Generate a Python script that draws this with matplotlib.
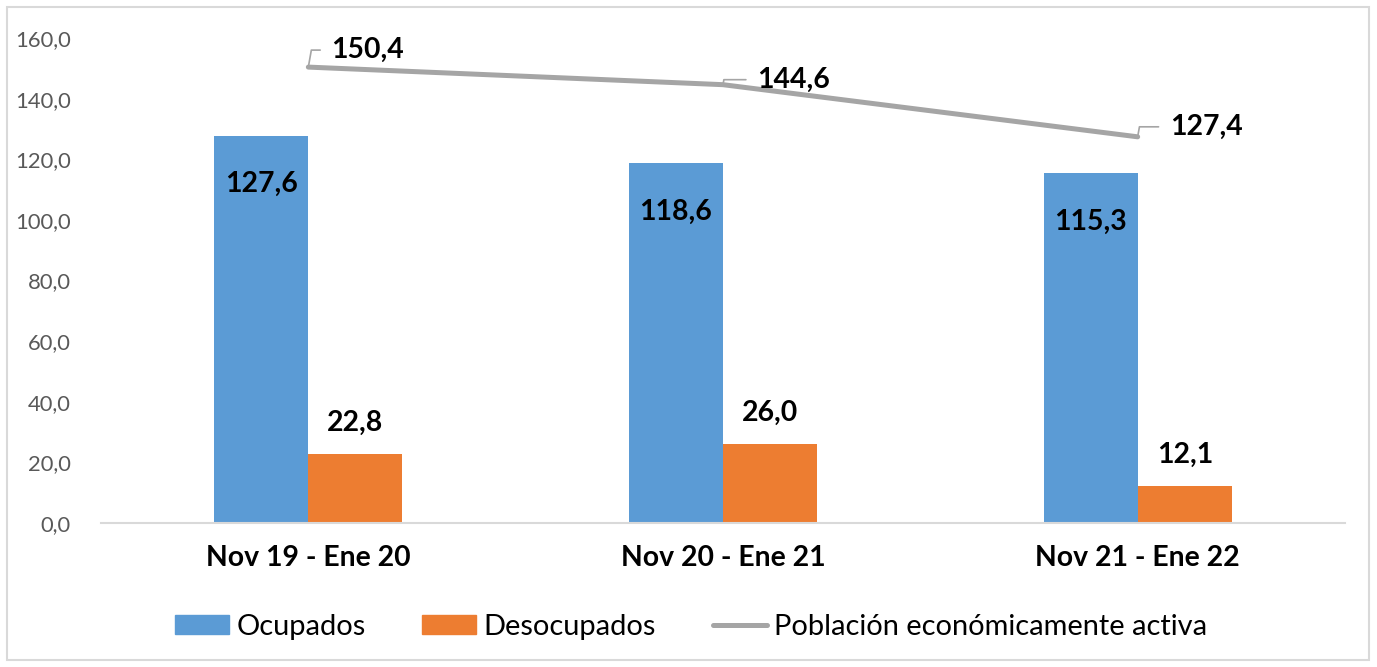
import matplotlib
matplotlib.use("Agg")
import matplotlib.pyplot as plt
from matplotlib.patches import Rectangle, Patch
from matplotlib.lines import Line2D
import numpy as np

categories = ["Nov 19 - Ene 20", "Nov 20 - Ene 21", "Nov 21 - Ene 22"]
ocupados = [127.6, 118.6, 115.3]
desocupados = [22.8, 26.0, 12.1]
pea = [150.4, 144.6, 127.4]
yticks = [0, 20, 40, 60, 80, 100, 120, 140, 160]

BLUE = "#5b9bd5"
ORANGE = "#ed7d31"
GRAY = "#a5a5a5"
FONT = "Lato"

def fmt(v):
    return f"{v:.1f}".replace(".", ",")

plt.rcParams["font.family"] = [FONT, "DejaVu Sans"]

fig = plt.figure(figsize=(13.77, 6.67), dpi=100)
ax = fig.add_axes([101/1377, 1-523/667, (1345-101)/1377, (523-38)/667])

x = np.arange(len(categories))
w = 0.227
ax.bar(x - w/2, ocupados, w, color=BLUE, label="Ocupados")
ax.bar(x + w/2, desocupados, w, color=ORANGE, label="Desocupados")
ax.plot(x, pea, color=GRAY, lw=3.6, solid_capstyle="round",
        label="Población económicamente activa")

ax.set_xlim(-0.5, 2.5)
ax.set_ylim(0, 160)
ax.set_yticks(yticks)
ax.set_yticklabels([fmt(v) for v in yticks], color="#595959", fontsize=15.8)
ax.set_xticks(x)
ax.set_xticklabels(categories, fontsize=20.4, fontweight="bold", color="black")
ax.tick_params(axis="y", length=0, pad=22)
ax.tick_params(axis="x", length=0, pad=16)
for s in ["top", "right", "left"]:
    ax.spines[s].set_visible(False)
ax.spines["bottom"].set_color("#d9d9d9")
ax.spines["bottom"].set_linewidth(1.5)

LFS = 20.4
for xi, v in zip(x, ocupados):
    ax.annotate(fmt(v), (xi - w/2, v), xytext=(0, -48), textcoords="offset pixels",
                ha="center", va="center", fontsize=LFS, fontweight="bold")
for xi, v in zip(x, desocupados):
    ax.annotate(fmt(v), (xi + w/2, v), xytext=(0, 31), textcoords="offset pixels",
                ha="center", va="center", fontsize=LFS, fontweight="bold")

offsets = [(23, 17), (34, 5), (32, 10)]
for xi, v, (dx, dy) in zip(x, pea, offsets):
    ax.annotate(fmt(v), (xi, v), xytext=(dx, dy), textcoords="offset pixels",
                ha="left", va="center", fontsize=LFS, fontweight="bold",
                arrowprops=dict(arrowstyle="-", color=GRAY, lw=1.2,
                                connectionstyle="angle,angleA=180,angleB=80,rad=0",
                                relpos=(0, 0.5), shrinkA=6, shrinkB=1))

handles = [Patch(color=BLUE), Patch(color=ORANGE),
           Line2D([0], [0], color=GRAY, lw=3.6, solid_capstyle="round")]
labels = ["Ocupados", "Desocupados", "Población económicamente activa"]
fs = 20.9
px = fs * 100 / 72
fig.legend(handles, labels, loc="center", bbox_to_anchor=(691/1377, 1-627/667),
           ncol=3, frameon=False, fontsize=fs,
           handlelength=54/px, handleheight=18/px, handletextpad=7/px,
           columnspacing=57/px, borderpad=0)

fig.patches.append(Rectangle((7/1377, 7/667), 1362/1377, 653/667, transform=fig.transFigure,
                             fill=False, edgecolor="#d9d9d9", lw=1.5))

fig.savefig("out.png", dpi=100, facecolor="white")
